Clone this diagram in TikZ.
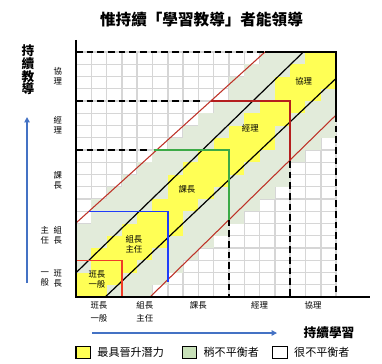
\documentclass[tikz,border=0pt]{standalone}
\usepackage{fontspec}
\newfontfamily\cjk{Noto Sans CJK TC}
\usetikzlibrary{arrows.meta,positioning}
\definecolor{yel}{RGB}{255,255,85}
\definecolor{sage}{RGB}{226,235,218}
\definecolor{sageleg}{RGB}{200,225,185}
\definecolor{gridc}{RGB}{214,214,214}
\definecolor{bxred}{RGB}{240,60,40}
\definecolor{bxblue}{RGB}{30,60,250}
\definecolor{bxgreen}{RGB}{60,170,70}
\definecolor{bxdred}{RGB}{180,30,30}
\definecolor{diagred}{RGB}{190,50,40}
\definecolor{arrblue}{RGB}{68,114,196}

\begin{document}
\begin{tikzpicture}[x=11.475pt,y=9.1875pt,
  gridln/.style={gridc,line width=1.1pt},
  dsh/.style={dash pattern=on 5pt off 3pt,line width=1.1pt},
  bx/.style={line width=1.1pt},
  dred/.style={diagred,line width=0.8pt},
  dline/.style={black,line width=0.9pt},
  lbl/.style={font=\cjk\fontsize{6.3}{7.5}\selectfont,align=center,inner sep=0pt},
  xlab/.style={lbl,anchor=north,font=\cjk\fontsize{6.3}{9.75}\selectfont},
  lgbox/.style={draw,line width=0.8pt,minimum width=11pt,minimum height=8.5pt,inner sep=0pt},
  lgtxt/.style={font=\cjk\fontsize{8.3}{9}\selectfont,inner sep=0pt},
  arr/.style={arrblue,line width=1.1pt,-{Triangle[length=4pt,width=4pt]}}]
\fill[white] (-4.967,-5.388) rectangle (20.0,24.245);
\useasboundingbox (-4.967,-5.388) rectangle (20.0,24.245);

% grid
\foreach \i in {1,...,17} \draw[gridln] (\i,0) -- (\i,20);
\foreach \j in {1,...,20} \draw[gridln] (0,\j) -- (17,\j);

% staircase bands: column / bottom / top
\foreach \c/\a/\b in {0/0/6,1/0/8,2/0/9,3/0/10,4/0/11,5/1/12,6/2/13,7/3/14,8/4/15,
  9/5/16,10/6/18,11/7/19,12/8/20,13/9/20,14/11/20,15/12/20,16/13/20}
  \fill[sage] (\c,\a) rectangle ({\c+1},\b);
\foreach \c/\a/\b in {0/0/2,1/0/4,2/1/5,3/2/6,4/3/7,5/4/8,6/5/10,7/7/11,8/8/12,
  9/9/13,10/10/14,11/11/15,12/12/16,13/14/18,14/15/19,15/16/20,16/17/20}
  \fill[yel] (\c,\a) rectangle ({\c+1},\b);

% diagonals
\draw[dred] (0,6.04) -- (12.35,20);
\draw[dred] (4.84,0) -- (17,14.86);
\draw[dline] (0,1.98) -- (14.86,20);
\draw[dline] (1.91,0) -- (17,17.85);

% level boxes
\draw[bxred,bx] (0,3) -- (3,3) -- (3,0);
\draw[bxblue,bx] (0.85,7) -- (6,7) -- (6,1.2);
\draw[bxgreen,bx] (5.1,12) -- (10,12) -- (10,6.3);
\draw[bxdred,bx] (8.8,16) -- (14,16) -- (14,11.1);
\draw[bx] (12.35,20) -- (17,20) -- (17,14.86);
\draw[dsh] (0,12) -- (4.7,12);
\draw[dsh] (10,6.3) -- (10,0);
\draw[dsh] (0,16) -- (8.2,16);
\draw[dsh] (14,11.1) -- (14,0);
\draw[dsh] (0,20) -- (12.3,20);
\draw[dsh] (17,14.86) -- (17,0);

% axes
\draw[line width=1.5pt] (0,20.98) -- (0,0) -- (19.2,0);

% band labels
\node[lbl] (p1) at (1.37,1.47) {班長\\一般};
\node[lbl] (p2) at (3.79,4.33) {組長\\主任};
\node[lbl] (p3) at (7.25,8.79) {課長};
\node[lbl] (p4) at (11.39,13.77) {經理};
\node[lbl] (p5) at (14.88,17.58) {協理};

% y labels
\node[lbl] (y1) at (-1.18,1.5) {班\\長};
\node[lbl] (y1b) at (-2.03,1.5) {一\\般};
\node[lbl] (y2) at (-1.18,5) {組\\長};
\node[lbl] (y2b) at (-2.03,5) {主\\任};
\node[lbl] (y3) at (-1.18,9.5) {課\\長};
\node[lbl] (y4) at (-1.18,14) {經\\理};
\node[lbl] (y5) at (-1.18,18) {協\\理};

% x labels
\node[xlab] (x1) at (1.5,-0.35) {班長\\一般};
\node[xlab] (x2) at (4.5,-0.35) {組長\\主任};
\node[xlab] (x3) at (8,-0.35) {課長};
\node[xlab] (x4) at (12,-0.35) {經理};
\node[xlab] (x5) at (15.5,-0.35) {協理};

% titles and arrows
\node[font=\cjk\bfseries\fontsize{11.7}{13}\selectfont] (title) at (8.2,22.61) {惟持續「學習教導」者能領導};
\node[font=\cjk\bfseries\fontsize{9.5}{9.5}\selectfont,align=center] (ytit) at (-3.14,18.53) {持\\續\\教\\導};
\node[font=\cjk\bfseries\fontsize{9.5}{10}\selectfont] (xtit) at (16.54,-2.94) {持續學習};
\coordinate (va0) at (-3.2,1.14);
\coordinate (va1) at (-3.2,14.69);
\coordinate (ha0) at (1.05,-2.94);
\coordinate (ha1) at (13.14,-2.94);
\draw[arr] (va0) -- (va1);
\draw[arr] (ha0) -- (ha1);

% legend
\node[lgbox,fill=yel] (k1) at (0.48,-4.53) {};
\node[lgtxt,right=4.5pt of k1] (t1) {最具晉升潛力};
\node[lgbox,fill=sageleg] (k2) at (7.42,-4.53) {};
\node[lgtxt,right=4.5pt of k2] (t2) {稍不平衡者};
\node[lgbox,fill=white] (k3) at (13.34,-4.53) {};
\node[lgtxt,right=4.5pt of k3] (t3) {很不平衡者};
\end{tikzpicture}
\end{document}
